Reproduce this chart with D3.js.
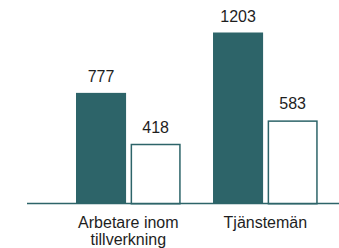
<!DOCTYPE html>
<meta charset="utf-8">
<style>
  body { margin: 0; background: #fff; }
  text { font-family: "Liberation Sans", Arial, sans-serif; fill: #1e1e1e; }
</style>
<body>
  <div id="box1"></div>
</body>
<script src="https://d3js.org/d3.v7.min.js"></script>
<script>

var width = 339, height = 248;

// data
var categories = [["Arbetare inom", "tillverkning"], ["Tjänstemän"]];
var seriesNames = ["serie1", "serie2"];
var serie1 = [777, 1203];
var serie2 = [418, 583];

var teal = "#2d6469";

var data = categories.map(function(c, i) {
  return { cat: i, label: c, values: [serie1[i], serie2[i]] };
});

var x = d3.scaleBand()
  .domain(d3.range(categories.length))
  .range([76, 317.7])
  .paddingInner(0.236);

var xs = d3.scaleBand()
  .domain(seriesNames)
  .range([0, x.bandwidth()])
  .paddingInner(0.083);

var y = d3.scaleLinear()
  .domain([0, 1203])
  .range([203, 32.5]);

var svg = d3.select("#box1").append("svg")
  .attr("width", width)
  .attr("height", height);

var g = svg.selectAll("g.grp")
  .data(data)
  .join("g")
  .attr("class", "grp")
  .attr("transform", d => "translate(" + x(d.cat) + ",0)");

// filled bars
g.append("rect")
  .attr("x", xs("serie1"))
  .attr("y", d => y(d.values[0]))
  .attr("width", xs.bandwidth())
  .attr("height", d => y(0) - y(d.values[0]))
  .attr("fill", teal);

// outlined bars
g.append("rect")
  .attr("x", xs("serie2") + 0.75)
  .attr("y", d => y(d.values[1]) + 0.75)
  .attr("width", xs.bandwidth() - 1.5)
  .attr("height", d => y(0) - y(d.values[1]))
  .attr("fill", "#fff")
  .attr("stroke", teal)
  .attr("stroke-width", 1.5);

// value labels
seriesNames.forEach(function(s, j) {
  g.append("text")
    .attr("x", xs(s) + xs.bandwidth() / 2)
    .attr("y", d => y(d.values[j]) - 11)
    .attr("text-anchor", "middle")
    .style("font-size", "16px")
    .text(d => d.values[j]);
});

// axis line
svg.append("line")
  .attr("x1", 27)
  .attr("x2", width)
  .attr("y1", y(0) + 0.5)
  .attr("y2", y(0) + 0.5)
  .attr("stroke", teal)
  .attr("stroke-width", 1.5);

// category labels
g.append("text")
  .attr("x", x.bandwidth() / 2)
  .attr("y", 227.5)
  .attr("text-anchor", "middle")
  .style("font-size", "16px")
  .selectAll("tspan")
  .data(d => d.label)
  .join("tspan")
  .attr("x", x.bandwidth() / 2)
  .attr("dy", (d, i) => i === 0 ? 0 : 17)
  .text(d => d);

</script>
